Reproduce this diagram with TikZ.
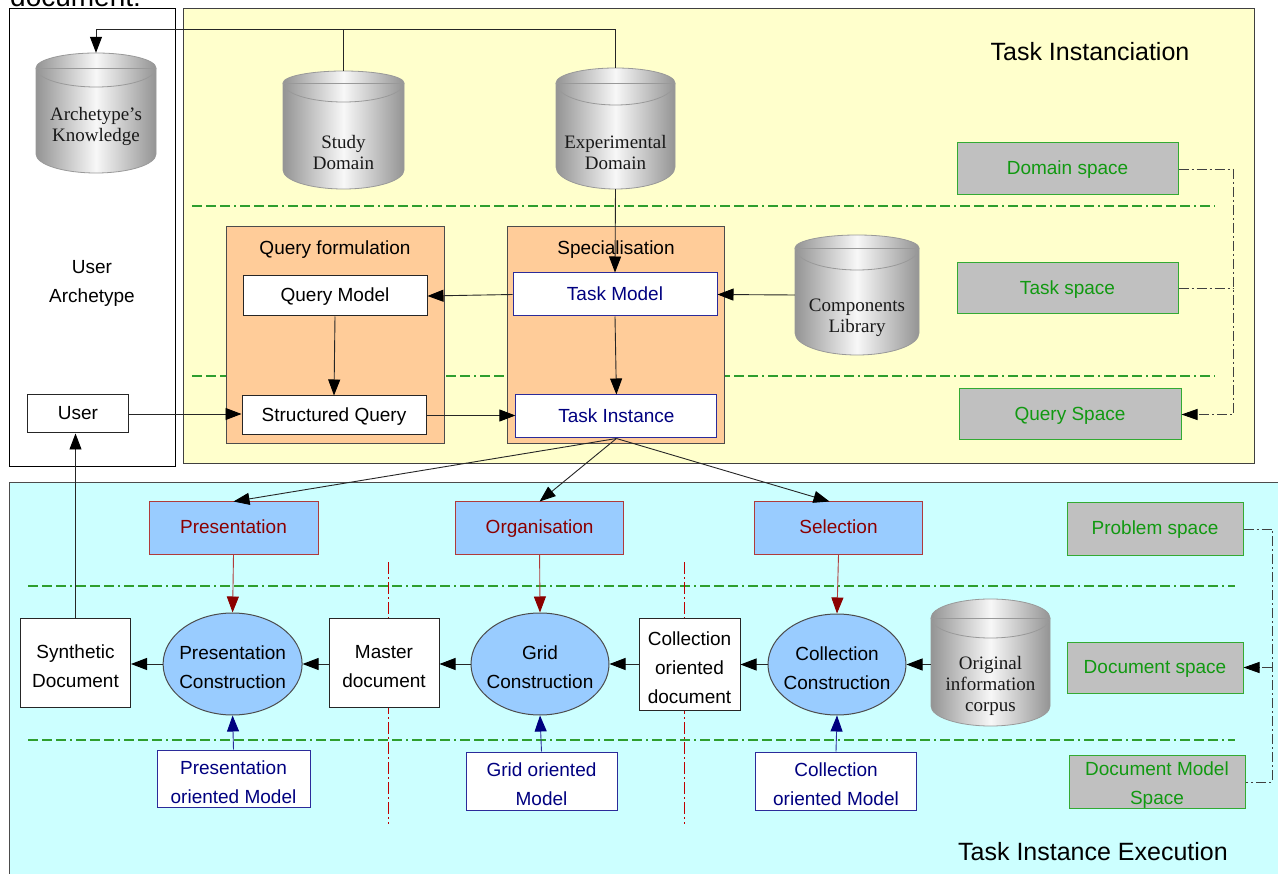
\documentclass[tikz,border=0pt]{standalone}
\usepackage{fontspec}
\setmainfont{Liberation Serif}
\setsansfont{Liberation Sans}
\usetikzlibrary{arrows.meta,shapes.geometric}
\definecolor{yel}{HTML}{FFFFCC}
\definecolor{cyanbg}{HTML}{CCFFFF}
\definecolor{orng}{HTML}{FFCC99}
\definecolor{lblue}{HTML}{99CCFF}
\definecolor{dred}{HTML}{8B0000}
\definecolor{rborder}{HTML}{B03A3A}
\definecolor{navy}{HTML}{000080}
\definecolor{nborder}{HTML}{2B2B9A}
\definecolor{gtext}{HTML}{119911}
\definecolor{gborder}{HTML}{33AA33}
\definecolor{sgray}{HTML}{C0C0C0}
\definecolor{dgreen}{HTML}{2E9E2E}
\definecolor{vred}{HTML}{C00000}
\tikzset{
  base/.style={font=\sffamily\fontsize{19}{29}\selectfont, align=center, inner sep=0pt, line width=1pt},
  sl/.style={execute at begin node=\strut},
  wbox/.style={base, draw=black!85, fill=white},
  nbox/.style={base, draw=nborder, fill=white, text=navy},
  rbox/.style={base, draw=rborder, fill=lblue, text=dred},
  gbox/.style={base, draw=gborder, fill=sgray, text=gtext},
  obox/.style={draw=black!70, fill=orng, line width=1pt},
  ell/.style={ellipse, draw=black!70, fill=lblue, line width=1pt, inner sep=0pt},
  cylbody/.style={draw=black!40, line width=0.8pt, left color=black!42, right color=black!42, middle color=black!3},
  cylline/.style={draw=black!40, line width=0.8pt},
  cyltext/.style={font=\rmfamily\fontsize{19}{21}\selectfont, align=center, text=black!90},
  arr/.style={line width=0.9pt, draw=black!85, -{Triangle[length=16pt,width=12pt,color=black]}},
  rarr/.style={line width=0.9pt, draw=rborder, -{Triangle[length=16pt,width=12pt,color=dred,fill=dred]}},
  barr/.style={line width=0.9pt, draw=nborder, -{Triangle[length=16pt,width=12pt,color=navy,fill=navy]}},
  ddash/.style={line width=0.9pt, draw=black!75, dash pattern=on 10pt off 3pt on 2pt off 3pt},
  gline/.style={draw=dgreen, line width=1.2pt, dash pattern=on 10pt off 4pt on 10pt off 4pt on 10pt off 4pt on 2pt off 4pt},
  rline/.style={draw=vred, line width=1pt, dash pattern=on 12pt off 3pt on 2pt off 3pt},
}
\newcommand\cyl[9]{%
  \pgfmathsetmacro\cylcx{(#2+#3)/2}%
  \pgfmathsetmacro\cylrx{(#3-#2)/2}%
  \pgfmathsetmacro\cylrt{#5-#4}%
  \pgfmathsetmacro\cylrb{#6-#5}%
  \pgfmathsetmacro\cylyb{#7-\cylrb}%
  \pgfmathsetmacro\cylcy{(#4+#7)/2}%
  \pgfmathsetmacro\cylw{#3-#2}%
  \pgfmathsetmacro\cylh{#7-#4}%
  \path[cylbody] (#2,#5) arc[start angle=180,end angle=0,x radius=\cylrx pt,y radius=\cylrt pt]
     -- (#3,\cylyb) arc[start angle=0,end angle=-180,x radius=\cylrx pt,y radius=\cylrb pt] -- cycle;
  \draw[cylline] (#2,#5) arc[start angle=180,end angle=360,x radius=\cylrx pt,y radius=\cylrb pt];
  \draw[cylline] (#2,#5) -- (#3,#5);
  \node[inner sep=0pt,minimum width=\cylw pt,minimum height=\cylh pt] (#1) at (\cylcx,\cylcy) {};
  \node[cyltext] at (\cylcx,#9) {#8};
}
\begin{document}
\begin{tikzpicture}[x=1pt,y=-1pt]
\useasboundingbox (0,0) rectangle (1278,874);
\clip (0,0) rectangle (1278,874);
\fill[white] (0,0) rectangle (1278,874);
% cut-off caption text (cut by the top edge, as in the reference)
\node[font=\sffamily\fontsize{28}{30}\selectfont, anchor=base west, inner sep=0pt] (doc) at (10,6.5) {document:};
% background regions
\draw[fill=white, draw=black, line width=1pt] (9,9) rectangle (175,467);
\draw[fill=yel, draw=black!75, line width=1pt] (183,9) rectangle (1254,464);
\draw[fill=cyanbg, draw=black!70, line width=1pt] (9,483) rectangle (1300,900);
% separators
\draw[gline] (192,206) -- (1215,206);
\draw[gline] (192,376) -- (1215,376);
\draw[gline] (28,586) -- (1235,586);
\draw[gline] (28,740) -- (1235,740);
\draw[rline] (388.5,562) -- (388.5,824);
\draw[rline] (684.5,562) -- (684.5,824);
% titles
\node[font=\sffamily\fontsize{25}{30}\selectfont] (t1) at (1090,52) {Task Instanciation};
\node[font=\sffamily\fontsize{25}{30}\selectfont] (t2) at (1093,852) {Task Instance Execution};
\node[base] (ua) at (92,280) {\strut User\\Archetype};
% cylinders
\cyl{ak}{36}{156}{53}{68}{87}{173}{Archetype\char39 s\\Knowledge}{126}
\cyl{sd}{283}{404}{71}{83}{102}{189}{Study\\Domain}{152.5}
\cyl{ed}{556}{675}{68}{83}{105}{189}{Experimental\\Domain}{152.5}
\cyl{cl}{795}{919}{235}{248}{270}{355}{Components\\Library}{318}
\cyl{oc}{931}{1050}{599}{618}{638}{726}{Original\\information\\corpus}{686}
% orange groups
\draw[obox] (226,227) rectangle (444,444);
\draw[obox] (507,227) rectangle (724.6,444);
\node[base, sl] (qft) at (335,249) {Query formulation};
\node[base, sl] (spt) at (616,249) {Specialisation};
% top nodes
\node[wbox, sl, minimum width=101pt, minimum height=38pt] (user) at (78,414) {User};
\node[wbox, sl, minimum width=184pt, minimum height=40pt] (qm) at (335,296) {Query Model};
\node[wbox, sl, minimum width=184pt, minimum height=39pt] (sq) at (334,415.5) {Structured Query};
\node[nbox, sl, minimum width=204pt, minimum height=43pt] (tm) at (615,294.5) {Task Model};
\node[nbox, sl, minimum width=201pt, minimum height=43pt] (ti) at (616.4,416.5) {Task Instance};
\node[gbox, sl, minimum width=221pt, minimum height=52pt] (dom) at (1067.5,169) {Domain space};
\node[gbox, sl, minimum width=221pt, minimum height=51pt] (tsp) at (1067.5,288.5) {Task space};
\node[gbox, sl, minimum width=222pt, minimum height=51pt] (qsp) at (1070,414.5) {Query Space};
% bottom nodes
\node[rbox, sl, minimum width=169pt, minimum height=52pt] (pres) at (233.5,528) {Presentation};
\node[rbox, sl, minimum width=168pt, minimum height=52pt] (org) at (539.6,528) {Organisation};
\node[rbox, sl, minimum width=168pt, minimum height=52pt] (sel) at (838.5,528) {Selection};
\node[gbox, sl, minimum width=176pt, minimum height=52pt] (prob) at (1155,529) {Problem space};
\node[gbox, sl, minimum width=176pt, minimum height=51pt] (docsp) at (1155,667.5) {Document space};
\node[gbox, minimum width=176pt, minimum height=52pt] (dms) at (1157,782) {\strut Document Model\\Space};
\node[wbox, minimum width=110pt, minimum height=89pt] (synth) at (75.5,662.5) {\strut Synthetic\\Document};
\node[wbox, minimum width=110pt, minimum height=89pt] (master) at (384,662.5) {\strut Master\\document};
\node[wbox, minimum width=101pt, minimum height=92pt] (cod) at (689.5,664) {\strut Collection\\oriented\\document};
\node[ell, minimum width=139pt, minimum height=102pt] (pc) at (232.6,664) {};
\node[base] at (pc) {\strut Presentation\\Construction};
\node[ell, minimum width=138pt, minimum height=102pt] (gc) at (540,664) {};
\node[base] at (gc) {\strut Grid\\Construction};
\node[ell, minimum width=138pt, minimum height=101pt] (cc) at (837,664.5) {};
\node[base] at (cc) {\strut Collection\\Construction};
\node[nbox, minimum width=153pt, minimum height=57pt] (pom) at (233.5,778.5) {\strut Presentation\\oriented Model};
\node[nbox, minimum width=151pt, minimum height=58pt] (gom) at (541.5,781) {\strut Grid oriented\\Model};
\node[nbox, minimum width=161pt, minimum height=58pt] (com) at (836,781) {\strut Collection\\oriented Model};
% top connectors
\coordinate (tl) at (0,29);
\draw[arr] (ed.north) -- (ed.north |- tl) -- (ak.north |- tl) -- (ak.north);
\draw[line width=0.9pt, draw=black!85] (sd.north) -- (sd.north |- tl);
\draw[arr] (ed.south) -- (tm.north);
\draw[arr] (cl.west) -- (tm.east);
\draw[arr] (tm.west) -- (qm.east);
\draw[arr] (qm.south) -- (sq.north);
\draw[arr] (tm.south) -- (ti.north);
\draw[arr] (user.east) -- (user.east -| sq.west);
\draw[arr] (sq.east) -- (sq.east -| ti.west);
\coordinate (vx) at (1233,0);
\draw[ddash] (dom.east) -- (dom.east -| vx);
\draw[ddash] (tsp.east) -- (tsp.east -| vx);
\draw[ddash, -{Triangle[length=16pt,width=11pt,color=black]}] (dom.east -| vx) -- (qsp.east -| vx) -- (qsp.east);
% execution connectors
\draw[arr] (ti.south) -- (pres.north);
\draw[arr] (ti.south) -- (org.north);
\draw[arr] (ti.south) -- ([xshift=-9pt]sel.north);
\draw[rarr] (pres.south) -- (pc.north);
\draw[rarr] (org.south) -- (gc.north);
\draw[rarr] (sel.south) -- (cc.north);
\draw[barr] (pom.north) -- (pc.south);
\draw[barr] (gom.north) -- (gc.south);
\draw[barr] (com.north) -- (cc.south);
\draw[arr] (oc.west |- cc.east) -- (cc.east);
\draw[arr] (cc.west) -- (cod.east |- cc.west);
\draw[arr] (cod.west |- gc.east) -- (gc.east);
\draw[arr] (gc.west) -- (master.east |- gc.west);
\draw[arr] (master.west |- pc.east) -- (pc.east);
\draw[arr] (pc.west) -- (synth.east |- pc.west);
\draw[arr] (synth.north) -- (synth.north |- user.south);
\coordinate (vx2) at (1272.3,0);
\draw[ddash] (prob.east) -- (prob.east -| vx2) -- (dms.east -| vx2) -- (dms.east);
\draw[ddash, -{Triangle[length=16pt,width=11pt,color=black]}] (docsp.east -| vx2) -- (docsp.east);
\end{tikzpicture}
\end{document}
